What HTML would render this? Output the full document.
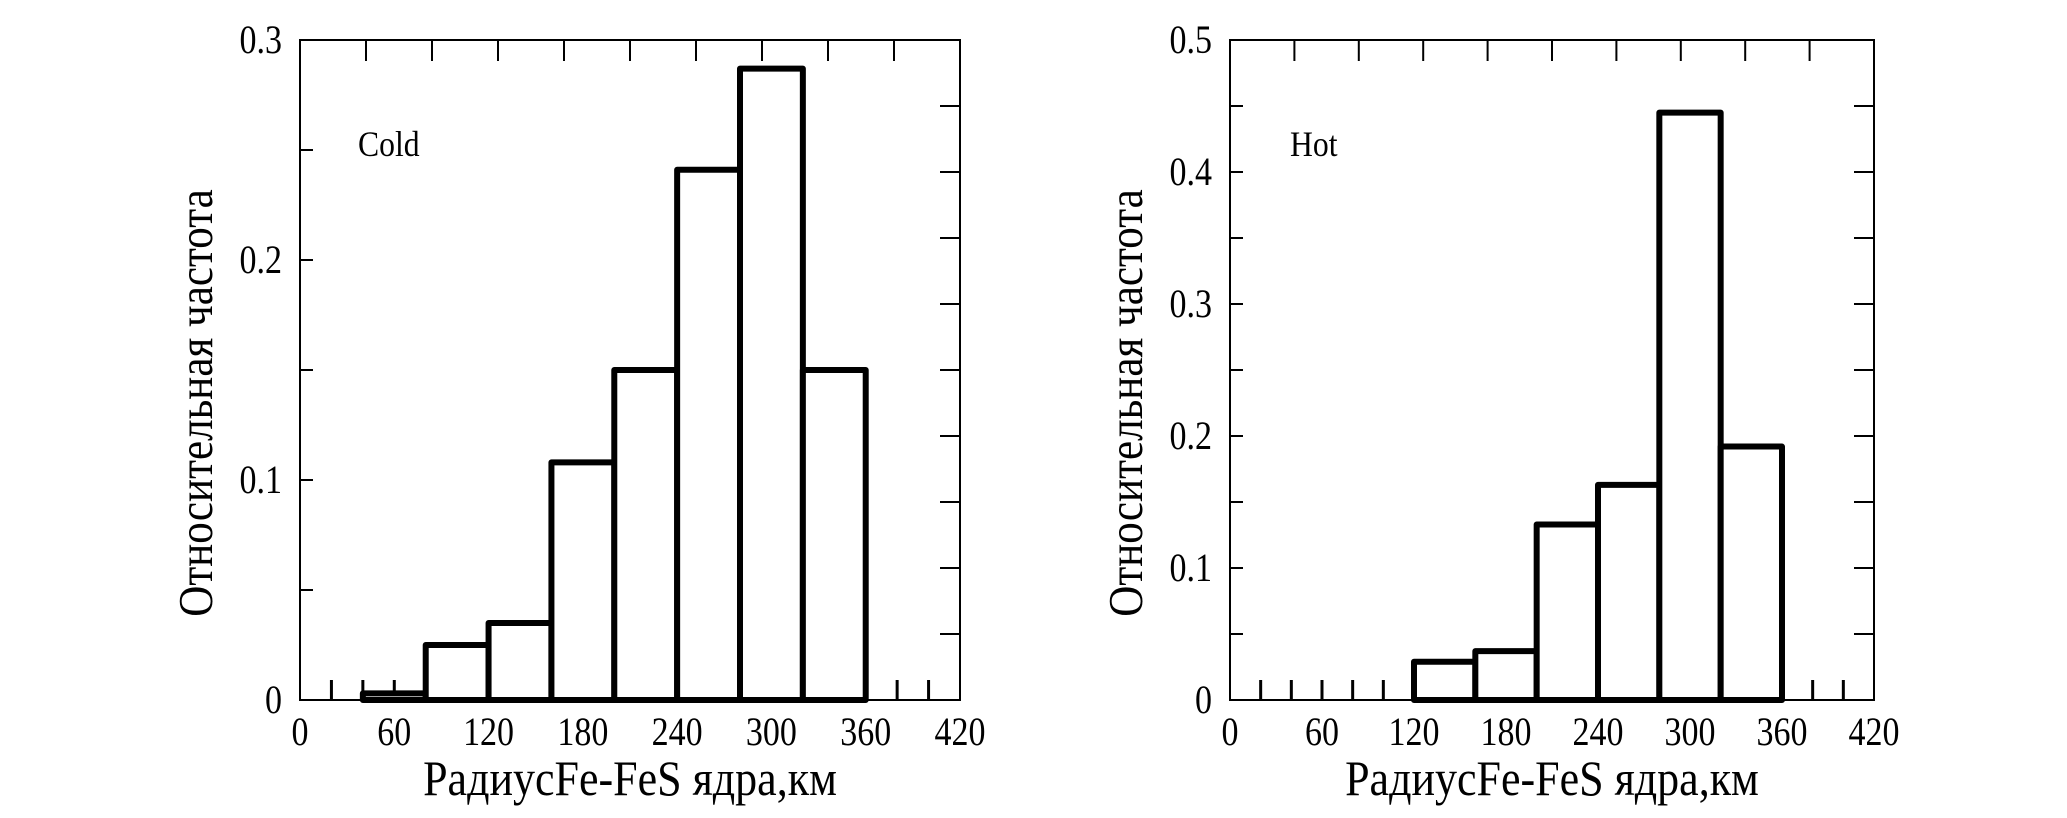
<!DOCTYPE html>
<html><head><meta charset="utf-8">
<style>
html,body{margin:0;padding:0;background:#fff;}
svg{display:block;}
text{font-family:"Liberation Serif","DejaVu Serif",serif;fill:#000;}
</style></head>
<body>
<svg id="fig" width="2067" height="818" viewBox="0 0 2067 818" xmlns="http://www.w3.org/2000/svg"></svg>
<script>
const xTickLabels = [0, 60, 120, 180, 240, 300, 360, 420];
const coldBinStarts = [40, 80, 120, 160, 200, 240, 280, 320];
const coldValues = [0.003, 0.025, 0.035, 0.108, 0.150, 0.241, 0.287, 0.150];
const coldYTickLabels = ["0", "0.1", "0.2", "0.3"];
const hotBinStarts = [120, 160, 200, 240, 280, 320];
const hotValues = [0.029, 0.037, 0.133, 0.163, 0.445, 0.192];
const hotYTickLabels = ["0", "0.1", "0.2", "0.3", "0.4", "0.5"];
const binWidth = 40;

const NS = "http://www.w3.org/2000/svg";
const svg = document.getElementById('fig');
function mk(tag, attrs, parent){
  const e = document.createElementNS(NS, tag);
  for (const k in attrs) e.setAttribute(k, attrs[k]);
  (parent || svg).appendChild(e);
  return e;
}

function drawPanel(cfg){
  const g = mk('g', {});
  
  
  const L = cfg.left, R = cfg.right, T = cfg.top, B = cfg.bottom;
  const ymax = parseFloat(cfg.yLabels[cfg.yLabels.length - 1]);
  const xs = v => L + (v / 420) * (R - L);
  const ys = v => B - (v / ymax) * (B - T);

  const frame = mk('rect', {x: L, y: T, width: R - L, height: B - T, fill: 'none', stroke: '#000', 'stroke-width': 2}, g);
  
  

  for (let v = 20; v < 420; v += 20) {
    const t = mk('line', {x1: xs(v), x2: xs(v), y1: B, y2: B - 20, stroke: '#000', 'stroke-width': 3}, g);
    
    
  }
  for (let v = 42; v < 420; v += 42) {
    const t = mk('line', {x1: xs(v), x2: xs(v), y1: T, y2: T + 21, stroke: '#000', 'stroke-width': 2}, g);
    
    
  }
  for (let v = 0.05; v < ymax - 1e-6; v += 0.05) {
    const t = mk('line', {x1: L, x2: L + 13, y1: ys(v), y2: ys(v), stroke: '#000', 'stroke-width': 2}, g);
    
    
  }
  for (let v = cfg.rightStep; v < ymax - 1e-6; v += cfg.rightStep) {
    const t = mk('line', {x1: R, x2: R - 20, y1: ys(v), y2: ys(v), stroke: '#000', 'stroke-width': 2}, g);
    
    
  }

  cfg.starts.forEach((s, i) => {
    const x0 = xs(s), x1 = xs(s + binWidth), y = ys(cfg.values[i]);
    const r = mk('rect', {x: x0, y: y, width: x1 - x0, height: B - y, fill: '#fff', stroke: '#000', 'stroke-width': 6, 'stroke-linejoin': 'round'}, g);
    
    
  });

  xTickLabels.forEach(v => {
    const t = mk('text', {x: xs(v), y: B + 45, 'font-size': 40, 'text-anchor': 'middle', transform: `translate(${xs(v)},0) scale(0.85,1) translate(${-xs(v)},0)`}, g);
    t.textContent = v;
    
    
  });
  cfg.yLabels.forEach(lbl => {
    const v = parseFloat(lbl);
    const xr = L - 18;
    const t = mk('text', {x: xr, y: ys(v) + 13, 'font-size': 40, 'text-anchor': 'end', transform: `translate(${xr},0) scale(0.85,1) translate(${-xr},0)`}, g);
    t.textContent = lbl;
    
    
  });
  const cx = (L + R) / 2;
  const xt = mk('text', {x: cx, y: 795, 'font-size': 50, 'text-anchor': 'middle', transform: `translate(${cx},0) scale(0.88,1) translate(${-cx},0)`}, g);
  xt.textContent = 'РадиусFe-FeS ядра,км';
  
  

  const yx = cfg.yTitleX, yy = 403;
  const yt = mk('text', {x: 0, y: 0, 'font-size': 49, 'text-anchor': 'middle', transform: `translate(${yx},${yy}) rotate(-90) scale(0.88,1)`}, g);
  yt.textContent = 'Относительная частота';
  
  

  const lab = mk('text', {x: cfg.labelX, y: 156, 'font-size': 36, transform: `translate(${cfg.labelX},0) scale(0.88,1) translate(${-cfg.labelX},0)`}, g);
  lab.textContent = cfg.label;
  
  
}

drawPanel({name: 'cold-histogram', left: 300, right: 960, top: 40, bottom: 700,
  starts: coldBinStarts, values: coldValues, yLabels: coldYTickLabels, rightStep: 0.03,
  yTitleX: 212, labelX: 358, label: 'Cold'});
drawPanel({name: 'hot-histogram', left: 1230, right: 1874, top: 40, bottom: 700,
  starts: hotBinStarts, values: hotValues, yLabels: hotYTickLabels, rightStep: 0.05,
  yTitleX: 1142, labelX: 1290, label: 'Hot'});
</script>
</body></html>
